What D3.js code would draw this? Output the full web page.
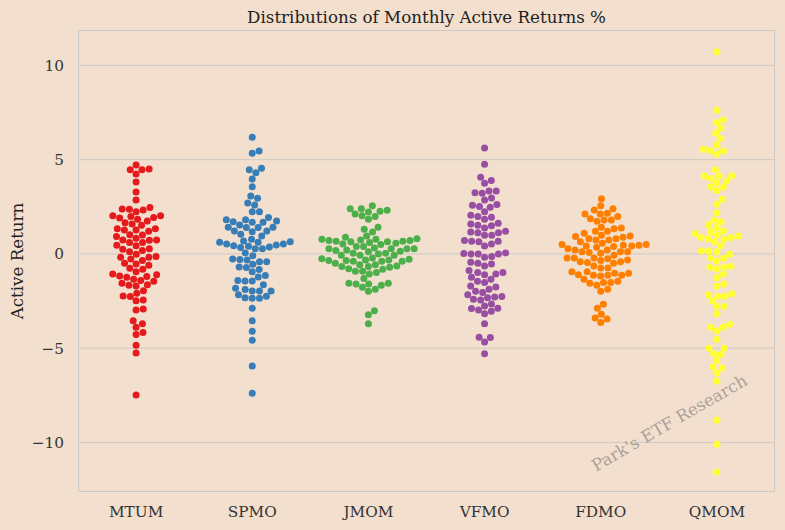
<!DOCTYPE html>
<html lang="en">
<head>
<meta charset="utf-8">
<title>Distributions of Monthly Active Returns %</title>
<script src="https://cdn.jsdelivr.net/npm/d3@7"></script>
<style>
  body { margin: 0; background: #f3dfcd; }
  svg text { font-family: "DejaVu Serif", serif; }
  .axis text { font-size: 15.3px; fill: #333; }
  .axis path, .axis line { display: none; }
</style>
</head>
<body>
<div id="vis"></div>
<script>
var w = 785, h = 530;
var margin = { top: 30, right: 10, bottom: 38, left: 78 };

var funds = ["MTUM", "SPMO", "JMOM", "VFMO", "FDMO", "QMOM"];
var colors = ["#e41a1c", "#377eb8", "#4daf4a", "#984ea3", "#ff7f00", "#ffff33"];
var yTicks = [-10, -5, 0, 5, 10];

// monthly active returns
var mtum = [4.72, 4.46, 4.46, 4.5, 4.24, 3.82, 3.29, 2.86, 2.46, 2.33, 2.24, 2.37, 2.39,
  2.03, 1.91, 1.84, 1.66, 1.98, 1.75, 1.93, 2.03, 1.52, 1.59, 1.34, 1.2, 1.34, 1.27, 1.27,
  1.02, 0.92, 0.83, 1.01, 0.74, 0.73, 0.74, 0.6, 0.6, 0.44, 0.46, 0.28, 0.18, 0.25,
  0.12, -0.14, -0.18, -0.27, -0.18, -0.02, -0.35, -0.53, -0.5, -0.76, -0.6, -0.81, -0.95,
  -1.17, -1.06, -1.2, -1.1, -1.45, -1.63, -1.41, -1.34, -1.24, -1.56, -1.7, -1.66, -1.95,
  -2.09, -2.26, -2.23, -2.44, -2.49, -2.92, -2.97, -3.54, -3.71, -3.89, -4.17, -4.28,
  -4.85, -5.25, -7.48];
var spmo = [6.19, 5.34, 5.46, 4.55, 4.31, 4.46, 3.98, 3.57, 2.95, 3.08, 2.6, 2.7, 2.24, 2.24,
  1.93, 1.82, 1.71, 1.54, 1.82, 1.68, 1.68, 1.75, 1.42, 1.22, 1.04, 1.4, 1.18, 1.22, 1.4, 1.42,
  0.95, 0.69, 0.53, 0.44, 0.34, 0.27, 0.65, 0.62, 0.37, 0.62, 0.78, 0.41, 0.48, 0.53, 0.27,
  -0.09, 0.05, -0.41, -0.3, -0.55, -0.41, -0.32, -0.27, -0.72, -0.94, -0.83, -0.69,
  -1.22, -1.15, -1.43, -1.43, -1.41, -1.64, -1.96, -1.96, -1.96, -1.89, -1.82,
  -2.25, -2.35, -2.35, -2.32, -2.17, -2.88, -3.55, -4.1, -4.58, -5.94, -7.39];
var jmom = [2.32, 2.26, 2.55, 2.23, 2.4, 2.12, 2.4, 1.98, 1.84, 2.02, 1.31, 1.17, 1.42, 0.95, 0.89,
  0.81, 0.78, 0.71, 0.64, 0.57, 0.71, 0.53, 0.5, 0.64, 0.67, 0.6, 0.67, 0.74, 0.78,
  0.28, 0.21, 0.04, 0, 0.18, 0.39, 0.14, 0.28, 0.32, 0.39, -0.07, -0.07, -0.07, 0.04, 0.11, 0.28, 0.28,
  -0.32, -0.35, -0.39, -0.28, -0.39, -0.32, -0.39, -0.35, -0.25, -0.21,
  -0.67, -0.78, -0.81, -0.57, -0.67, -0.57, -0.5, -0.71, -0.64, -0.99, -1.06, -0.92, -0.92, -1.31,
  -1.56, -1.66, -1.87, -1.59, -1.98, -1.77, -1.59, -1.56, -3.01, -3.22, -3.7];
var vfmo = [5.62, 4.76, 3.89, 4.07, 3.75, 3.34, 3.34, 3.22, 3.25, 2.97, 2.86, 2.62, 2.48, 2.51, 2.58, 2.24,
  1.95, 1.84, 1.98, 2.05, 1.63, 1.52, 1.38, 1.49, 1.59, 1.2, 1.13, 0.99, 0.99, 1.13, 1.17,
  0.67, 0.53, 0.42, 0.67, 0.65, 0.71, 0.02, 0, 0, -0.18, -0.14, 0, 0.05,
  -0.44, -0.5, -0.64, -0.53, -0.88, -0.99, -1.1, -1.06, -0.99, -1.24, -1.45, -1.52, -1.34,
  -1.75, -1.87, -2.05, -1.98, -1.7, -2.17, -2.28, -2.33, -2.44, -2.4, -2.26,
  -2.65, -2.76, -2.88, -3.04, -3.18, -2.97, -2.9, -3.7, -4.44, -4.42, -4.67, -5.29];
var fdmo = [2.93, 2.33, 2.16, 2.4, 2.55, 2.12, 2.12, 1.87, 1.73, 1.98, 1.8, 1.8, 1.42, 1.38, 1.2, 1.1,
  1.2, 1.34, 0.99, 0.89, 0.81, 0.74, 0.64, 0.74, 0.81, 0.92, 0.95, 0.5, 0.5, 0.35, 0.21, 0.46,
  0.21, 0.39, 0.57, 0.46, 0.42, 0.28, 0.42, 0.04, -0.07, 0.07, 0.11, 0.11, 0.11,
  -0.25, -0.42, -0.46, -0.32, -0.42, -0.21, -0.21, -0.5, -0.35, -0.21, -0.74, -0.74, -0.64,
  -0.94, -1.02, -1.02, -1.13, -1.17, -1.13, -1.13, -1.1, -0.95, -1.34, -1.52, -1.52, -1.66,
  -1.56, -1.45, -1.87, -1.98, -2.67, -2.88, -3.2, -3.45, -3.4, -3.64];
var qmom = [10.73, 7.62, 7.11, 6.97, 6.68, 6.42, 6.12, 5.78, 5.46, 5.3, 5.48, 5.55, 4.46,
  4.15, 4.14, 3.87, 3.78, 4.0, 4.14, 3.54, 3.36, 3.57, 2.9, 2.64, 2.18, 1.71, 1.79, 1.54,
  1.22, 1.4, 1.18, 0.95, 0.87, 0.65, 1.01, 0.81, 0.78, 0.87, 1.08, 0.44, 0.12, -0.02, 0.16, 0.16,
  -0.23, -0.37, -0.21, -0.65, -0.69, -0.8, -0.71, -1.08, -1.26, -1.59, -1.71,
  -2.25, -2.25, -2.49, -2.17, -2.11, -2.78, -2.78, -3.18, -3.89, -4.08, -3.89, -3.73,
  -4.53, -5.0, -5.0, -5.34, -5.29, -5.66, -6.05, -5.98, -6.3, -6.74, -8.82, -10.1, -11.57];

var series = [mtum, spmo, jmom, vfmo, fdmo, qmom];

var svg = d3.select("#vis").append("svg")
  .attr("width", w).attr("height", h);

svg.append("rect").attr("width", w).attr("height", h).attr("fill", "#f3dfcd");

var xScale = d3.scaleBand()
  .domain(funds)
  .range([margin.left, w - margin.right]);

var yScale = d3.scaleLinear()
  .domain([-12.63, 11.88])
  .range([h - margin.bottom, margin.top]);

// horizontal grid
svg.append("g").selectAll("line")
  .data(yTicks).enter().append("line")
  .attr("x1", margin.left).attr("x2", w - margin.right)
  .attr("y1", function(d) { return yScale(d); })
  .attr("y2", function(d) { return yScale(d); })
  .attr("stroke", "#cdcac6").attr("stroke-width", 1);

// frame
svg.append("rect")
  .attr("x", margin.left + 0.5).attr("y", margin.top + 0.5)
  .attr("width", w - margin.left - margin.right - 1)
  .attr("height", h - margin.top - margin.bottom - 1)
  .attr("fill", "none").attr("stroke", "#cdcac6");

// beeswarm placement, seaborn style: sorted by value, nearest free slot to the centre
var r = 3.5, gap = 7.2;
function swarm(values, cx) {
  var pts = values.map(function(v) { return { v: v, y: yScale(v) }; })
    .sort(function(a, b) { return a.v - b.v; });
  var placed = [];
  pts.forEach(function(p) {
    var near = placed.filter(function(q) { return Math.abs(q.y - p.y) < gap; });
    var cands = [0];
    near.forEach(function(q) {
      var dx = Math.sqrt(gap * gap - (q.y - p.y) * (q.y - p.y));
      cands.push(q.dx + dx, q.dx - dx);
    });
    cands.sort(function(a, b) { return Math.abs(a) - Math.abs(b); });
    for (var i = 0; i < cands.length; i++) {
      var c = cands[i];
      var ok = near.every(function(q) {
        var ddx = q.dx - c, ddy = q.y - p.y;
        return ddx * ddx + ddy * ddy >= gap * gap - 0.01;
      });
      if (ok) { p.dx = c; break; }
    }
    p.x = cx + p.dx;
    placed.push(p);
  });
  return pts;
}

series.forEach(function(vals, i) {
  var cx = xScale(funds[i]) + xScale.bandwidth() / 2;
  svg.append("g").selectAll("circle")
    .data(swarm(vals, cx)).enter().append("circle")
    .attr("cx", function(d) { return d.x; })
    .attr("cy", function(d) { return d.y; })
    .attr("r", r)
    .attr("fill", colors[i]);
});

// axes
var xAxisG = svg.append("g")
  .attr("class", "axis")
  .attr("transform", "translate(0," + (h - margin.bottom) + ")")
  .call(d3.axisBottom(xScale).tickSize(0).tickPadding(14));
xAxisG.attr("font-family", null).attr("font-size", null);

var yAxisG = svg.append("g")
  .attr("class", "axis")
  .attr("transform", "translate(" + margin.left + ",0)")
  .call(d3.axisLeft(yScale).tickValues(yTicks).tickSize(0).tickPadding(14)
    .tickFormat(function(d) { return d < 0 ? "\u2212" + Math.abs(d) : d; }));
yAxisG.attr("font-family", null).attr("font-size", null);

// title and label
svg.append("text")
  .attr("x", (margin.left + w - margin.right) / 2).attr("y", 23)
  .attr("text-anchor", "middle")
  .attr("font-size", "16.7px").attr("fill", "#222")
  .text("Distributions of Monthly Active Returns %");

svg.append("text")
  .attr("transform", "translate(23," + ((margin.top + h - margin.bottom) / 2) + ") rotate(-90)")
  .attr("text-anchor", "middle")
  .attr("font-size", "16.7px").attr("fill", "#222")
  .text("Active Return");

// watermark
svg.append("text")
  .attr("transform", "translate(670,424) rotate(-30)")
  .attr("text-anchor", "middle").attr("dominant-baseline", "middle")
  .attr("font-size", "16.7px")
  .attr("fill", "#8a8580").attr("fill-opacity", 0.7)
  .text("Park's ETF Research");
</script>
</body>
</html>
